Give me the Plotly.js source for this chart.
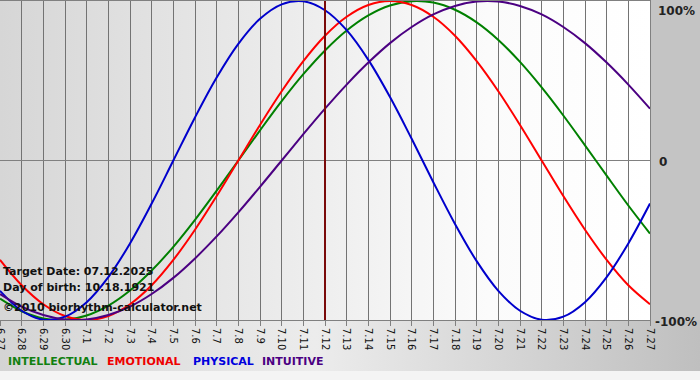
<!DOCTYPE html>
<html><head><meta charset="utf-8">
<script src="https://cdn.plot.ly/plotly-3.0.1.min.js"></script>
<style>html,body{margin:0;padding:0;background:#c4c4c4}#chart{width:700px;height:380px}</style>
</head><body><div id="chart"></div><script>
// ---- data ----
const days = ['6.27','6.28','6.29','6.30','7.1','7.2','7.3','7.4','7.5','7.6','7.7','7.8','7.9','7.10','7.11','7.12','7.13','7.14','7.15','7.16','7.17','7.18','7.19','7.20','7.21','7.22','7.23','7.24','7.25','7.26','7.27'];
const intellectual = [-86.6,-94.5,-99.0,-99.9,-97.2,-91.0,-81.5,-69.0,-54.1,-37.2,-18.9,0,18.9,37.2,54.1,69.0,81.5,91.0,97.2,99.9,99.0,94.5,86.6,75.6,61.8,45.8,28.2,9.5,-9.5,-28.2,-45.8];
const emotional = [-62.3,-78.2,-90.1,-97.5,-100,-97.5,-90.1,-78.2,-62.3,-43.4,-22.3,0,22.3,43.4,62.3,78.2,90.1,97.5,100,97.5,90.1,78.2,62.3,43.4,22.3,0,-22.3,-43.4,-62.3,-78.2,-90.1];
const physical = [-81.7,-94.2,-99.8,-97.9,-88.8,-73.1,-52.0,-27.0,0,27.0,52.0,73.1,88.8,97.9,99.8,94.2,81.7,63.1,39.8,13.6,-13.6,-39.8,-63.1,-81.7,-94.2,-99.8,-97.9,-88.8,-73.1,-52.0,-27.0];
const intuitive = [-83.7,-91.6,-96.9,-99.7,-99.7,-96.9,-91.6,-83.7,-73.6,-61.4,-47.6,-32.5,-16.5,0,16.5,32.5,47.6,61.4,73.6,83.7,91.6,96.9,99.7,99.7,96.9,91.6,83.7,73.6,61.4,47.6,32.5];
const targetDay = '7.12';
const yTickVals = [-100, 0, 100];
const yTickText = ['-100%', '0', '100%'];
const seriesNames = ['INTELLECTUAL','EMOTIONAL','PHYSICAL','INTUITIVE'];
const infoLines = ['Target Date: 07.12.2025','Day of birth: 10.18.1921','\u00a92010 biorhythm-calculator.net'];

// ---- styles ----
const colors = {INTELLECTUAL:'#008000', EMOTIONAL:'#ff0000', PHYSICAL:'#0000cc', INTUITIVE:'#4b0082'};
const textColors = {INTELLECTUAL:'#118011', EMOTIONAL:'#ee0000', PHYSICAL:'#0000dd', INTUITIVE:'#4b0082'};
const W = 700, H = 380;
const plotRight = 650, plotTop = 1, plotBottom = 320;
const FONT = 'DejaVu Sans, Verdana, sans-serif';

// background panels (pixel space of a hidden full-page subplot)
function rect(x0,y0,x1,y1,grad,flat){
  const t = {x:[x0,x1,x1,x0,x0], y:[y0,y0,y1,y1,y0], mode:'none', fill:'toself',
    xaxis:'x', yaxis:'y', hoverinfo:'skip', showlegend:false};
  if (grad) { t.fillgradient = {type:'horizontal', colorscale:grad}; t.fillcolor = grad[0][1]; }
  else t.fillcolor = flat;
  return t;
}
const bg = [
  rect(0, plotTop, plotRight, plotBottom, [[0,'#d6d6d6'],[0.75,'#fbfbfb'],[1,'#ffffff']]),
  rect(0, plotBottom, W, 371, [[0,'#d4d4d4'],[0.45,'#ececec'],[1,'#bfbfbf']]),
  rect(0, 371, W, H, null, '#f4f4f4')
];

const series = [intellectual, emotional, physical, intuitive];
const lineTraces = seriesNames.map((n,i)=>({
  x: days, y: series[i], type:'scatter', mode:'lines', name:n,
  line:{color:colors[n], width:2, shape:'spline', smoothing:1},
  xaxis:'x2', yaxis:'y2', hoverinfo:'skip', showlegend:false, cliponaxis:true
}));

const annotations = [];
const infoY = [271.5, 287.5, 307];
infoLines.forEach((t,i)=>annotations.push({text:t, xref:'paper', yref:'paper', x:1/W, y:1-infoY[i]/H,
  xanchor:'left', yanchor:'middle', showarrow:false, font:{family:FONT, size:11, color:'#111', weight:'bold'}}));
const legX = [6, 105, 191, 260];
seriesNames.forEach((n,i)=>annotations.push({text:n, xref:'paper', yref:'paper', x:legX[i]/W, y:1-361.5/H,
  xanchor:'left', yanchor:'middle', showarrow:false, font:{family:FONT, size:11, color:textColors[n], weight:'bold'}}));
const yAnch = {'100%':'top','0':'middle','-100%':'middle'};
const yShift = {'100%':-1,'0':-1,'-100%':-2};
const yX = {'100%':656,'0':657,'-100%':653};
yTickVals.forEach((v,i)=>annotations.push({text:yTickText[i], xref:'paper', yref:'y2', x:yX[yTickText[i]]/W, y:v,
  xanchor:'left', yanchor:yAnch[yTickText[i]], yshift:yShift[yTickText[i]], showarrow:false,
  font:{family:FONT, size:12, color:'#222', weight:'bold'}}));

const targetIndex = days.indexOf(targetDay);
const layout = {
  width:W, height:H, margin:{l:0,r:0,t:0,b:0},
  paper_bgcolor:'#c4c4c4', plot_bgcolor:'rgba(0,0,0,0)', showlegend:false,
  xaxis:{domain:[0,1], range:[0,W], visible:false, fixedrange:true},
  yaxis:{domain:[0,1], range:[H,0], visible:false, fixedrange:true},
  xaxis2:{domain:[0, plotRight/W], anchor:'y2', type:'category', range:[0, days.length-1],
    showgrid:true, gridcolor:'#737373', gridwidth:1, showline:true, mirror:true, linecolor:'#808080', linewidth:1,
    ticks:'outside', ticklen:5, tickcolor:'#808080', tickangle:90,
    tickfont:{family:FONT, size:10, color:'#111'}, zeroline:false, fixedrange:true},
  yaxis2:{domain:[1-plotBottom/H, 1-plotTop/H], anchor:'x2', range:[-100,100],
    tickvals:yTickVals, showticklabels:false, showgrid:true, gridcolor:'#808080', gridwidth:1,
    showline:true, mirror:true, linecolor:'#808080', linewidth:1, zeroline:false, ticks:'', fixedrange:true},
  shapes:[{type:'line', xref:'x2', yref:'y2', x0:targetIndex, x1:targetIndex, y0:-100, y1:100,
    line:{color:'#7a0a0a', width:2}, layer:'above'}],
  annotations:annotations
};

Plotly.newPlot('chart', bg.concat(lineTraces), layout, {staticPlot:true, displayModeBar:false});
</script></body></html>
